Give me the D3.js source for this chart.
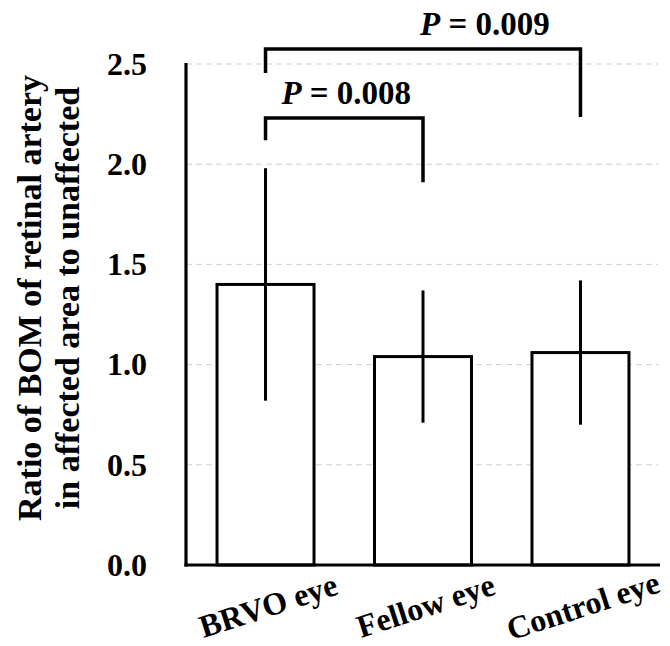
<!DOCTYPE html>
<html>
<head>
<meta charset="utf-8">
<script src="https://cdn.jsdelivr.net/npm/d3@7"></script>
<style>
  body { margin: 0; background: #fff; }
  svg text { font-family: 'Liberation Serif', 'Times New Roman', serif; font-weight: bold; fill: #000; }
</style>
</head>
<body>
<div id="chart"></div>
<script>
// data
var categories = ['BRVO eye', 'Fellow eye', 'Control eye'];
var means = [1.40, 1.04, 1.06];
var sds = [0.58, 0.33, 0.36];
var yTicks = [0.0, 0.5, 1.0, 1.5, 2.0, 2.5];
var yTitle = ['Ratio of BOM of retinal artery', 'in affected area to unaffected'];

// significance brackets: [from, to], bar height, left leg end, right leg end
var bracketPairs = [[0, 1], [0, 2]];
var bracketLevels = [2.23, 2.575];
var bracketLeftEnds = [2.12, 2.455];
var bracketRightEnds = [1.91, 2.235];
var pValues = ['0.008', '0.009'];

var width = 670, height = 646;
var margin = { left: 186, right: 10, top: 64, bottom: 81 };
var labelShift = [0.5, 0.69]; // where the p label sits along each bracket

var svg = d3.select('#chart').append('svg')
            .attr('width', width)
            .attr('height', height);

var x = d3.scaleBand()
          .domain(categories)
          .range([margin.left, 660])
          .paddingInner(0.384)
          .paddingOuter(0.197);

var y = d3.scaleLinear()
          .domain([0, 2.5])
          .range([565, 64]);

var cx = function(i) { return x(categories[i]) + x.bandwidth() / 2; };

// grid
svg.append('g').attr('class', 'grid')
   .selectAll('line')
   .data(yTicks.filter(function(t) { return t > 0; }))
   .enter().append('line')
   .attr('x1', margin.left)
   .attr('x2', 658)
   .attr('y1', function(d) { return y(d); })
   .attr('y2', function(d) { return y(d); })
   .attr('stroke', '#cfcfcf')
   .attr('stroke-width', 1)
   .attr('stroke-dasharray', '6,4');

// bars
svg.append('g').attr('class', 'bars')
   .selectAll('rect')
   .data(means)
   .enter().append('rect')
   .attr('x', function(d, i) { return x(categories[i]); })
   .attr('y', function(d) { return y(d); })
   .attr('width', x.bandwidth())
   .attr('height', function(d) { return y(0) - y(d); })
   .attr('fill', '#fff')
   .attr('stroke', '#000')
   .attr('stroke-width', 3);

// error bars (no caps)
svg.append('g').attr('class', 'errors')
   .selectAll('line')
   .data(means)
   .enter().append('line')
   .attr('x1', function(d, i) { return cx(i); })
   .attr('x2', function(d, i) { return cx(i); })
   .attr('y1', function(d, i) { return y(d - sds[i]); })
   .attr('y2', function(d, i) { return y(d + sds[i]); })
   .attr('stroke', '#000')
   .attr('stroke-width', 3);

// axes
var yAxis = d3.axisLeft(y).tickValues(yTicks).tickSize(0).tickPadding(39)
              .tickFormat(d3.format('.1f'));
var gy = svg.append('g').attr('transform', 'translate(' + margin.left + ',0)').call(yAxis);
gy.select('.domain').attr('stroke', '#000').attr('stroke-width', 3.2)
  .attr('d', 'M0,' + (y(2.5) - 1) + 'V' + (y(0) + 1.5));
gy.selectAll('text').attr('font-size', 32)
  .style('font-family', "'Liberation Serif', 'Times New Roman', serif")
  .style('font-weight', 'bold');

var xAxis = d3.axisBottom(x).tickSize(0).tickFormat('');
var gx = svg.append('g').attr('transform', 'translate(0,' + y(0) + ')').call(xAxis);
gx.select('.domain').attr('stroke', '#000').attr('stroke-width', 3.2)
  .attr('d', 'M' + (margin.left - 1.6) + ',0H660');

svg.append('g').attr('class', 'xlabels')
   .selectAll('text')
   .data(categories)
   .enter().append('text')
   .attr('transform', function(d, i) {
     return 'translate(' + (cx(i) + 6) + ',616) rotate(-18)';
   })
   .attr('text-anchor', 'middle')
   .attr('font-size', 32)
   .text(function(d) { return d; });

// y title
svg.append('g').attr('class', 'ytitle')
   .selectAll('text')
   .data(yTitle)
   .enter().append('text')
   .attr('transform', function(d, i) {
     return 'translate(' + (41 + i * 38) + ',298) rotate(-90)';
   })
   .attr('text-anchor', 'middle')
   .attr('font-size', 34)
   .text(function(d) { return d; });

// brackets
var brackets = svg.append('g').attr('class', 'brackets');
brackets.selectAll('path')
   .data(bracketPairs)
   .enter().append('path')
   .attr('d', function(d, i) {
     return 'M' + cx(d[0]) + ',' + y(bracketLeftEnds[i]) +
            'V' + y(bracketLevels[i]) +
            'H' + cx(d[1]) +
            'V' + y(bracketRightEnds[i]);
   })
   .attr('fill', 'none')
   .attr('stroke', '#000')
   .attr('stroke-width', 3.5);

var plabels = brackets.selectAll('text')
   .data(bracketPairs)
   .enter().append('text')
   .attr('x', function(d, i) { return cx(d[0]) + (cx(d[1]) - cx(d[0])) * labelShift[i] + 2; })
   .attr('y', function(d, i) { return y(bracketLevels[i]) - 14; })
   .attr('text-anchor', 'middle')
   .attr('font-size', 33);
plabels.append('tspan').attr('font-style', 'italic').text('P');
plabels.append('tspan').text(function(d, i) { return ' = ' + pValues[i]; });
</script>
</body>
</html>
